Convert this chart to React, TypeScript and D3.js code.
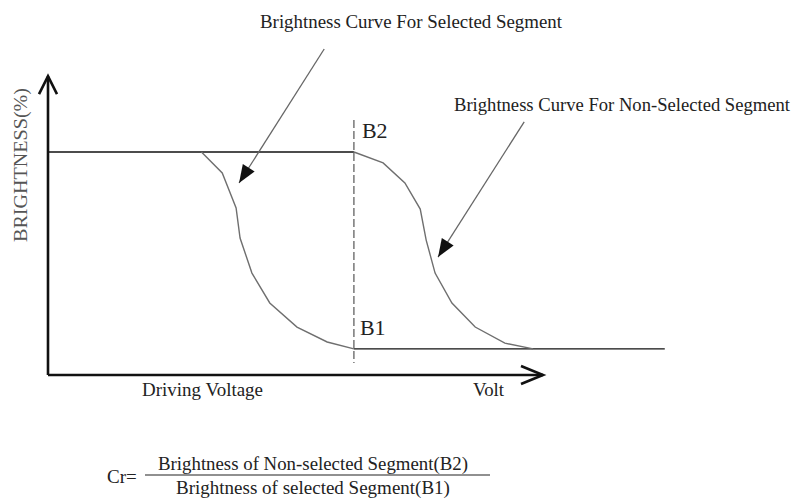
import React from 'react';
import * as d3 from 'd3';

// curve shapes: driving voltage (0-100 along the axis) vs brightness (%)
const selectedVolt = [31, 35.2, 38, 38.8, 41.2, 44.8, 50.3, 56.4, 61.8];
const selectedBright = [100, 90.6, 74.9, 61.4, 45.7, 32.3, 21.5, 14.8, 11.7];
const nonSelectedVolt = [61.8, 67.7, 72.1, 75.2, 76.4, 78.2, 81.6, 86.3, 92.3, 98];
const nonSelectedBright = [100, 95.1, 86.1, 74.4, 60.5, 45.7, 32.3, 21.5, 14.3, 11.7];

const levelB2 = 100;
const levelB1 = 11.7;
const driveVolt = 61.8;
const offLineEnd = 124.6;
const markerLabels = ['B2', 'B1'];

const annotationLabels = ['Brightness Curve For Selected Segment', 'Brightness Curve For Non-Selected Segment'];
// arrow tail/tip in data units [volt, brightness]
const annotationTails = [[55.8, 146.2], [96.2, 113.5]];
const annotationTips = [[38.6, 86.1], [78.8, 52.9]];

const axisLabels = ['BRIGHTNESS(%)', 'Driving Voltage', 'Volt'];
const formulaParts = ['Cr=', 'Brightness of Non-selected Segment(B2)', 'Brightness of selected Segment(B1)'];

const W = 797;
const H = 502;
const font = '"Liberation Serif", "Times New Roman", serif';

const x = d3.scaleLinear().domain([0, 100]).range([48, 543]);
const y = d3.scaleLinear().domain([0, 100]).range([375, 152]);

const line = d3.line<[number, number]>()
    .x(d => x(d[0]))
    .y(d => y(d[1]));

const zip = (a: number[], b: number[]) => a.map((v, i) => [v, b[i]] as [number, number]);

// filled triangle head at tip, pointing along tail->tip
function arrowHead(tail: number[], tip: number[], len = 18, half = 7) {
    const tx = x(tail[0]), ty = y(tail[1]);
    const px = x(tip[0]), py = y(tip[1]);
    const dx = px - tx, dy = py - ty;
    const l = Math.hypot(dx, dy);
    const ux = dx / l, uy = dy / l;
    const bx = px - ux * len, by = py - uy * len;
    return `M${px},${py}L${bx - uy * half},${by + ux * half}L${bx + uy * half},${by - ux * half}Z`;
}

export default function App() {
    const x0 = x(0), y0 = y(0);
    const yTop = y(134);
    const xEnd = x(100);

    return (
        <svg width={W} height={H} style={{position: 'absolute', left: 0, top: 0, background: '#fff'}}>
            {/* axes with open arrowheads */}
            <g stroke="#111" strokeWidth={2.6} fill="none">
                <line x1={x0} y1={y0} x2={x0} y2={yTop} />
                <path d={`M${x0 - 9},${yTop + 18}L${x0},${yTop}L${x0 + 9},${yTop + 18}`} />
                <line x1={x0} y1={y0} x2={xEnd} y2={y0} />
                <path d={`M${xEnd - 22},${y0 - 9}L${xEnd},${y0}L${xEnd - 22},${y0 + 9}`} />
            </g>

            {/* on / off levels */}
            <g stroke="#111" strokeWidth={1.3}>
                <line x1={x(0)} y1={y(levelB2)} x2={x(driveVolt)} y2={y(levelB2)} />
                <line x1={x(driveVolt)} y1={y(levelB1)} x2={x(offLineEnd)} y2={y(levelB1)} />
            </g>

            {/* selected voltage */}
            <line x1={x(driveVolt)} y1={y(114.3)} x2={x(driveVolt)} y2={y(5.4)}
                  stroke="#555" strokeWidth={1.2} strokeDasharray="8,3" />

            {/* curves */}
            <path d={line(zip(selectedVolt, selectedBright)) || ''} fill="none" stroke="#6f6f6f" strokeWidth={1.4} />
            <path d={line(zip(nonSelectedVolt, nonSelectedBright)) || ''} fill="none" stroke="#6f6f6f" strokeWidth={1.4} />

            {/* annotation arrows */}
            {annotationTails.map((t, i) => (
                <g key={i}>
                    <line x1={x(t[0])} y1={y(t[1])} x2={x(annotationTips[i][0])} y2={y(annotationTips[i][1])}
                          stroke="#666" strokeWidth={1.3} />
                    <path d={arrowHead(t, annotationTips[i])} fill="#111" />
                </g>
            ))}

            <g fontFamily={font} fill="#222">
                <text x={260} y={28} fontSize={19} textLength={302} lengthAdjust="spacingAndGlyphs">{annotationLabels[0]}</text>
                <text x={454} y={111} fontSize={19} textLength={336} lengthAdjust="spacingAndGlyphs">{annotationLabels[1]}</text>

                <text x={x(driveVolt) + 8} y={138} fontSize={22}>{markerLabels[0]}</text>
                <text x={x(driveVolt) + 6} y={335} fontSize={22}>{markerLabels[1]}</text>

                <text transform="translate(27,242) rotate(-90)" fontSize={19} fill="#555"
                      textLength={154} lengthAdjust="spacingAndGlyphs">{axisLabels[0]}</text>
                <text x={142} y={396} fontSize={19} textLength={121} lengthAdjust="spacingAndGlyphs">{axisLabels[1]}</text>
                <text x={473} y={396} fontSize={19} textLength={31} lengthAdjust="spacingAndGlyphs">{axisLabels[2]}</text>

                <text x={107} y={483} fontSize={19}>{formulaParts[0]}</text>
                <text x={313} y={470} fontSize={19} textAnchor="middle" textLength={310} lengthAdjust="spacingAndGlyphs">{formulaParts[1]}</text>
                <line x1={145} y1={475} x2={490} y2={475} stroke="#222" strokeWidth={1.2} />
                <text x={313} y={494} fontSize={19} textAnchor="middle">{formulaParts[2]}</text>
            </g>
        </svg>
    );
}
